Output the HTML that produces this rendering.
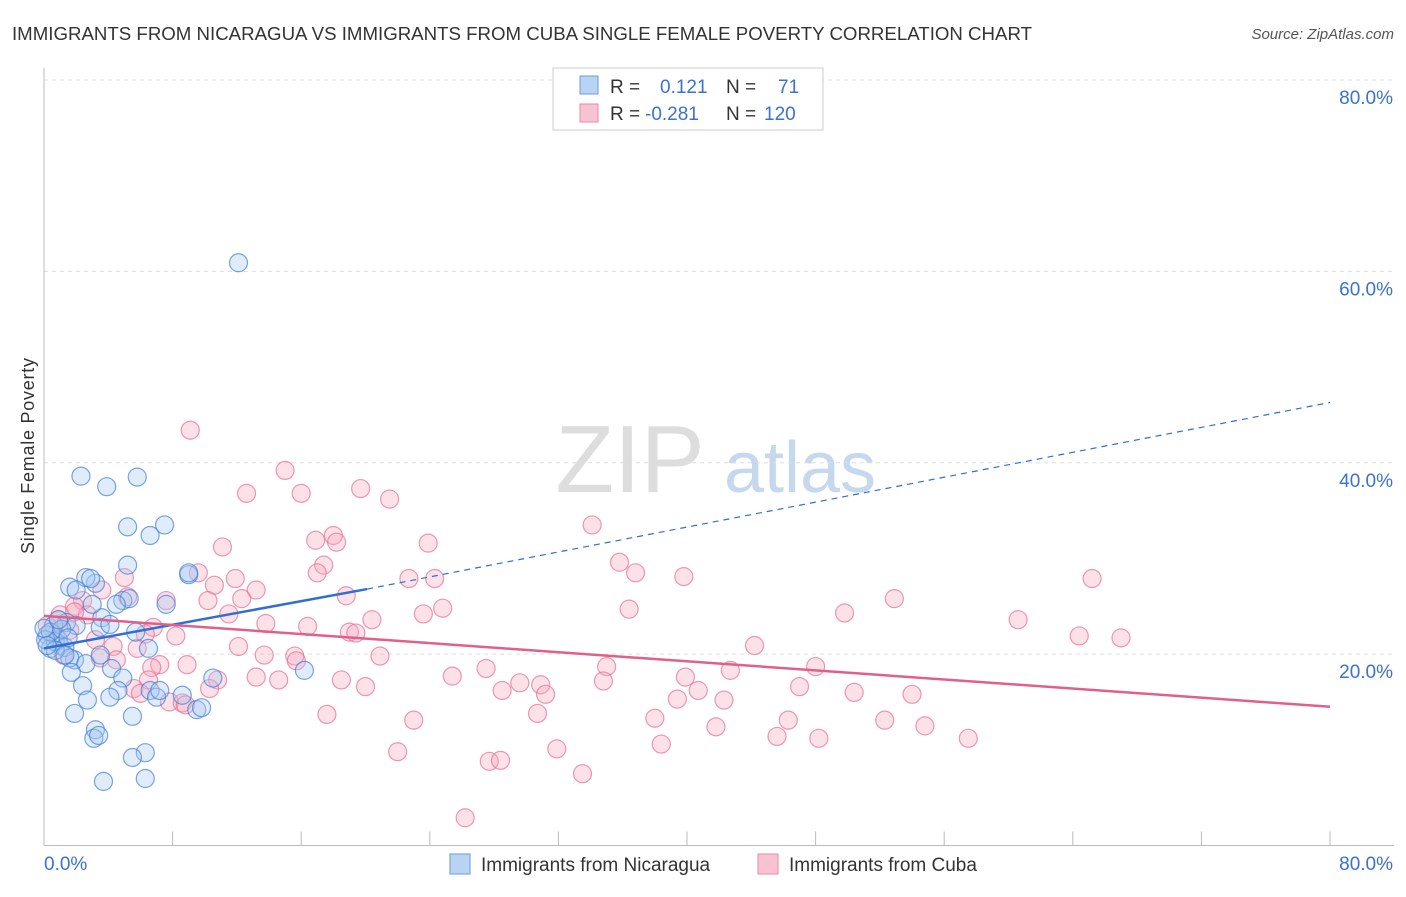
<!DOCTYPE html>
<html><head><meta charset="utf-8">
<style>
body{margin:0;background:#fff;font-family:"Liberation Sans",sans-serif;}
svg text{font-family:"Liberation Sans",sans-serif;}
</style></head>
<body>
<svg id="chart" width="1406" height="892">
<text x="12" y="40" font-size="18" fill="#333" textLength="1020" lengthAdjust="spacingAndGlyphs">IMMIGRANTS FROM NICARAGUA VS IMMIGRANTS FROM CUBA SINGLE FEMALE POVERTY CORRELATION CHART</text>
<text x="1394" y="39" font-size="15" fill="#555" font-style="italic" text-anchor="end">Source: ZipAtlas.com</text>
<text x="34" y="456" font-size="18" fill="#333" text-anchor="middle" transform="rotate(-90 34 456)" textLength="196">Single Female Poverty</text>
<text x="630" y="492" font-size="96" fill="#ddd" font-family="Liberation Serif" text-anchor="middle">ZIP</text>
<text x="800" y="492" font-size="72" fill="#c5d8ee" text-anchor="middle">atlas</text>
<g id="grid"></g><g id="axes"></g><g id="pts"></g><g id="lines"></g>
<g>
<rect x="553" y="68" width="270" height="62" fill="#fff" stroke="#ccc"/>
<rect x="580" y="76" width="18" height="18" fill="#b9d3f3" stroke="#6a9ee0"/>
<text x="610" y="93" font-size="19" fill="#333">R = </text><text x="660" y="93" font-size="19" fill="#3a72d0">0.121</text>
<text x="726" y="93" font-size="19" fill="#333">N = </text><text x="778" y="93" font-size="19" fill="#3a72d0">71</text>
<rect x="580" y="104" width="18" height="18" fill="#f7c3d3" stroke="#e888a8"/>
<text x="610" y="120" font-size="19" fill="#333">R = </text><text x="645" y="120" font-size="19" fill="#3a72d0">-0.281</text>
<text x="726" y="120" font-size="19" fill="#333">N = </text><text x="764" y="120" font-size="19" fill="#3a72d0">120</text>
</g>
<g>
<rect x="450" y="854" width="20" height="20" fill="#b9d3f3" stroke="#6a9ee0"/>
<text x="481" y="871" font-size="19" fill="#333">Immigrants from Nicaragua</text>
<rect x="758" y="854" width="20" height="20" fill="#f7c3d3" stroke="#e888a8"/>
<text x="789" y="871" font-size="19" fill="#333">Immigrants from Cuba</text>
</g>
</svg>
<script>
const yTicks=[20,40,60,80];
const yTickLabels=["20.0%","40.0%","60.0%","80.0%"];
const blueX=[12.1,2.3,3.9,5.8,5.2,7.5,6.6,5.2,9.0,3.2,1.6,2.6,2.0,2.9,4.9,5.3,4.5,7.6,3.6,1.4,0.6,2.0,0.2,0.9,1.0,0.4,0.7,1.3,3.5,5.7,4.1,6.5,1.9,1.6,2.6,3.5,1.7,2.4,4.2,4.9,4.6,4.1,6.6,7.0,8.6,9.5,9.8,10.5,16.2,1.9,2.7,5.5,3.2,3.1,3.4,6.3,5.5,6.3,3.7,9.0,0.1,0.4,1.1,0.7,0,0.2,1.5,7.2,3.0,1.3,0.9];
const blueY=[60.9,38.6,37.5,38.5,33.3,33.5,32.4,29.3,28.3,27.4,27.0,28.0,26.7,27.9,25.6,25.8,25.2,25.2,23.8,23.3,23.0,23.0,22.0,21.5,20.9,20.6,21.3,20.7,22.8,22.3,23.1,20.6,19.4,19.6,19.0,19.9,18.1,16.7,18.5,17.5,16.2,15.5,16.2,15.5,15.7,14.2,14.4,17.5,18.3,13.8,15.2,13.5,12.1,11.2,11.5,9.7,9.2,7.0,6.7,28.5,21.5,22.3,22.6,20.4,22.7,20.9,21.7,16.2,25.2,19.9,23.6];
const pinkX=[9.1,15.0,12.6,16.0,19.7,21.5,34.1,23.9,11.1,16.9,18.0,18.2,35.8,17.4,36.8,22.7,24.3,39.8,65.2,5.0,9.6,11.9,17.0,10.6,13.2,18.8,10.2,7.6,52.9,5.2,12.3,24.8,36.4,49.8,23.6,11.5,20.4,60.6,64.4,67.0,6.8,8.2,13.8,16.4,19.0,19.4,44.2,12.1,4.3,6.3,5.8,13.7,20.9,15.6,15.7,8.9,7.2,6.7,4.5,3.5,27.5,35.0,48.0,25.4,14.6,13.2,10.8,10.3,6.5,5.6,18.5,20.0,29.6,30.9,31.2,28.5,34.8,39.9,40.7,42.7,47.0,50.4,54.0,39.4,42.3,7.8,8.6,6.0,8.8,17.6,23.0,30.7,38.0,46.3,52.3,54.8,41.8,48.2,45.6,57.5,38.4,31.9,22.0,27.7,28.4,33.5,26.2,2.4,1.9,1.0,1.6,0.7,0.2,2.7,3.2,1.2,1.9,3.6,0.9];
const pinkY=[43.4,39.2,36.8,36.8,37.3,36.2,33.5,31.6,31.2,31.9,32.4,31.7,29.6,29.3,28.5,27.9,27.9,28.1,27.9,28.0,28.5,27.9,28.5,27.2,26.7,26.1,25.6,25.6,25.8,26.0,25.8,24.8,24.7,24.3,24.2,24.2,23.6,23.6,21.9,21.7,22.8,21.9,23.2,22.9,22.3,22.2,20.9,20.8,20.8,22.1,20.6,19.9,19.8,19.8,19.3,18.9,18.9,18.6,19.4,19.6,18.5,18.7,18.7,17.7,17.3,17.6,17.3,16.4,17.3,16.4,17.3,16.6,17.0,16.8,15.8,16.2,17.2,17.6,16.2,18.3,16.6,16.0,15.8,15.3,15.2,15.0,14.9,15.9,14.7,13.7,13.1,13.8,13.3,13.1,13.1,12.5,12.4,11.2,11.4,11.2,10.6,10.1,9.8,8.8,8.9,7.5,2.9,25.6,25.0,24.1,22.5,22.0,23.0,24.1,21.5,19.9,24.4,26.7,23.6];
const blueTrend=[[0,20.6],[20.1,26.8],[80,46.3]];
const pinkTrend=[[0,24.0],[80,14.5]];
const NS="http://www.w3.org/2000/svg";
const X0=44,X1=1330,Y0=845.5,YT=80;
function sx(v){return X0+(X1-X0)*v/80;}
function sy(v){return Y0-(Y0-YT)*v/80;}
function mk(tag,attrs,parent){const e=document.createElementNS(NS,tag);for(const k in attrs)e.setAttribute(k,attrs[k]);parent.appendChild(e);return e;}
const grid=document.getElementById('grid'),axes=document.getElementById('axes'),pts=document.getElementById('pts'),lines=document.getElementById('lines');
yTicks.forEach((t,i)=>{
 const g=mk('line',{x1:X0,x2:1394,y1:sy(t),y2:sy(t),stroke:'#ddd','stroke-dasharray':'4,4'},grid);
 
 
 const tx=mk('text',{x:1393,y:sy(t)+24,'font-size':19,fill:'#3a72d0','text-anchor':'end'},axes);
 tx.textContent=yTickLabels[i];
 
 
});
const ya=mk('line',{x1:X0,x2:X0,y1:68,y2:Y0,stroke:'#bbb'},axes);


const xa=mk('line',{x1:X0,x2:1394,y1:Y0,y2:Y0,stroke:'#bbb'},axes);


for(let i=0;i<=10;i++){
 const tk=mk('line',{x1:sx(i*8),x2:sx(i*8),y1:Y0,y2:Y0-14,stroke:'#bbb'},axes);
 
 
}
const xl=mk('text',{x:44,y:870,'font-size':19,fill:'#3a72d0'},axes);xl.textContent='0.0%';


const xr=mk('text',{x:1393,y:870,'font-size':19,fill:'#3a72d0','text-anchor':'end'},axes);xr.textContent='80.0%';


function dots(xs,ys,fill,stroke,name){xs.forEach((x,i)=>{
 const c=mk('circle',{cx:sx(x),cy:sy(ys[i]),r:9,fill:fill,'fill-opacity':0.35,stroke:stroke,'stroke-opacity':0.7,'stroke-width':1.2},pts);
 
 
});}
dots(pinkX,pinkY,'#f5a9c0','#e46f96','cuba-point');
dots(blueX,blueY,'#a9c8f0','#3f7fd6','nicaragua-point');
const b1=mk('line',{x1:sx(blueTrend[0][0]),y1:sy(blueTrend[0][1]),x2:sx(blueTrend[1][0]),y2:sy(blueTrend[1][1]),stroke:'#2f6fd4','stroke-width':2.5},lines);


const b2=mk('line',{x1:sx(blueTrend[1][0]),y1:sy(blueTrend[1][1]),x2:sx(blueTrend[2][0]),y2:sy(blueTrend[2][1]),stroke:'#2f6fd4','stroke-width':1.2,'stroke-dasharray':'6,5'},lines);


const p1=mk('line',{x1:sx(pinkTrend[0][0]),y1:sy(pinkTrend[0][1]),x2:sx(pinkTrend[1][0]),y2:sy(pinkTrend[1][1]),stroke:'#e0608c','stroke-width':2.5},lines);


</script>
</body></html>
